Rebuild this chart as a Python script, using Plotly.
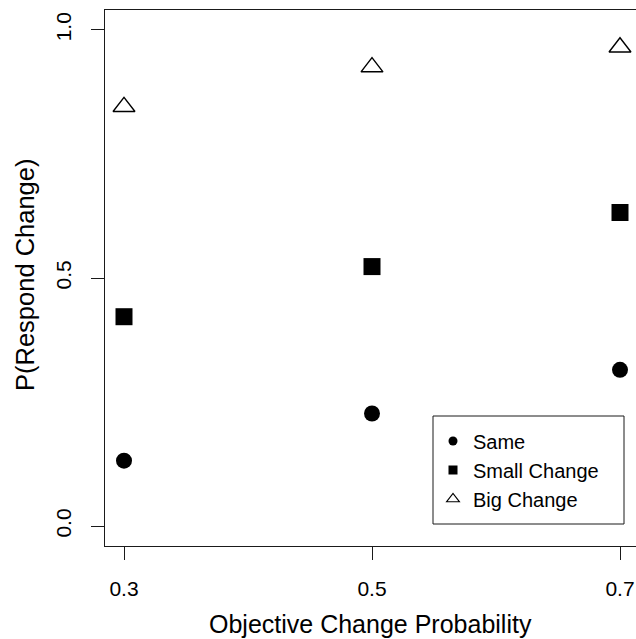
import plotly.graph_objects as go

x_vals = [0.3, 0.5, 0.7]
same = [0.132, 0.227, 0.315]
small_change = [0.422, 0.523, 0.632]
big_change = [0.845, 0.925, 0.965]

x_ticks = [0.3, 0.5, 0.7]
x_tick_labels = ["0.3", "0.5", "0.7"]
y_ticks = [0.0, 0.5, 1.0]
y_tick_labels = ["0.0", "0.5", "1.0"]
series_names = ["Same", "Small Change", "Big Change"]

W, H = 636, 639
L, T, B = 105, 10, 93
PW, PH = W - L, H - T - B
FONT = "Liberation Sans, Arial, Helvetica, sans-serif"
INK = "#1a1a1a"

fig = go.Figure()
styles = [
    dict(symbol="circle", size=16, color="black"),
    dict(symbol="square", size=17, color="black"),
    dict(symbol="triangle-up-open", size=19, color="black", line=dict(width=1.4, color="black")),
]
legend_styles = [
    dict(symbol="circle", size=9, color="black"),
    dict(symbol="square", size=9, color="black"),
    dict(symbol="triangle-up-open", size=11, color="black", line=dict(width=1.2, color="black")),
]
for name, vals, st, lst in zip(series_names, [same, small_change, big_change], styles, legend_styles):
    fig.add_trace(go.Scatter(x=x_vals, y=vals, mode="markers", marker=st, showlegend=False, name=name))
    fig.add_trace(go.Scatter(x=[None], y=[None], mode="markers", marker=lst, name=name, showlegend=True))

def px_to_px(xp):
    return (xp - L) / PW

def py_to_py(yp):
    return (T + PH - yp) / PH

fig.update_layout(
    width=W, height=H,
    margin=dict(l=L, r=0, t=T, b=B, pad=0),
    paper_bgcolor="white", plot_bgcolor="white",
    font=dict(family=FONT, color="black", size=21),
    xaxis=dict(
        range=[0.3 - 19 / 1240, 0.3 + 512 / 1240],
        tickvals=x_ticks, ticktext=x_tick_labels,
        ticks="outside", ticklen=13, tickwidth=1, tickcolor=INK,
        showline=True, linecolor=INK, linewidth=1, mirror=True,
        showgrid=False, zeroline=False,
        tickfont=dict(size=21, family=FONT, color="black"),
        ticklabelstandoff=11,
    ),
    yaxis=dict(
        range=[-0.04, 1.04],
        tickvals=y_ticks, ticktext=y_tick_labels,
        ticks="outside", ticklen=13, tickwidth=1, tickcolor=INK,
        showline=True, linecolor=INK, linewidth=1, mirror=False,
        showgrid=False, zeroline=False, tickangle=-90,
        tickfont=dict(size=21, family=FONT, color="black"),
        ticklabelstandoff=12,
    ),
    legend=dict(
        x=px_to_px(433), y=py_to_py(470), xanchor="left", yanchor="middle",
        bgcolor="rgba(0,0,0,0)", borderwidth=0,
        font=dict(size=20, family=FONT, color="black"),
        tracegroupgap=0,
    ),
    showlegend=True,
)

fig.add_shape(type="rect", xref="paper", yref="paper",
              x0=px_to_px(433), x1=px_to_px(624), y0=py_to_py(524), y1=py_to_py(416),
              line=dict(color=INK, width=1), fillcolor="rgba(0,0,0,0)")

fig.add_annotation(text="Objective Change Probability", xref="paper", yref="paper",
                   x=px_to_px(370), y=py_to_py(624), xanchor="center", yanchor="middle",
                   showarrow=False, font=dict(size=25, family=FONT, color="black"))
fig.add_annotation(text="P(Respond Change)", xref="paper", yref="paper",
                   x=px_to_px(25), y=py_to_py(275), xanchor="center", yanchor="middle",
                   textangle=-90, showarrow=False, font=dict(size=25.5, family=FONT, color="black"))

fig.write_html("out.html", config={"displayModeBar": False},
               post_script="document.body.style.margin='0';document.body.style.overflow='hidden';")
